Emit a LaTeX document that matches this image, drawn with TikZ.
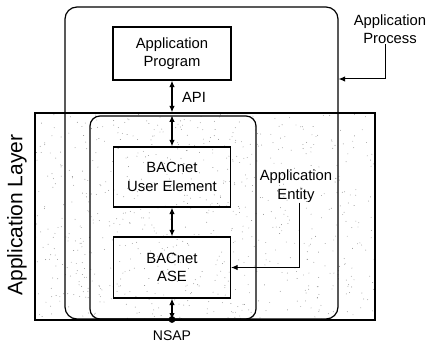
\documentclass[tikz,border=0pt]{standalone}
\usepackage{fontspec}
\setmainfont{Liberation Sans}
\usetikzlibrary{arrows.meta}
\begin{document}
\begin{tikzpicture}[x=1pt,y=-1pt,
  line width=1.2pt,
  lbl/.style={font=\fontsize{14.8}{18.5}\selectfont, align=center, inner sep=0pt},
  box/.style={draw, rectangle, minimum width=117pt, inner sep=0pt},
  frame/.style={draw, rectangle, inner sep=0pt},
  dbl/.style={{Latex[length=6.5pt,width=5.5pt]}-{Latex[length=6.5pt,width=5.5pt]}},
  arr/.style={-{Latex[length=6.5pt,width=5.5pt]}},
  speck/.style={fill=black!45}
]
\useasboundingbox (0,0) rectangle (426,345);

% stippled background of the application layer
\begin{scope}
  \clip (35,113) rectangle (375,320);
  \pgfmathsetseed{7}
  \foreach \k in {1,...,800}{
    \pgfmathsetmacro\rx{35+340*rnd}
    \pgfmathsetmacro\ry{113+207*rnd}
    \fill[speck] (\rx,\ry) circle (0.45pt);
  }
\end{scope}

% outer frames
\node[frame, minimum width=340pt, minimum height=207pt] (layer) at (205,216.5) {};
\node[frame, rounded corners=12pt, minimum width=273pt, minimum height=312pt] (process) at (201.5,163) {};
\node[frame, rounded corners=10pt, minimum width=166pt, minimum height=203pt] (entity) at (173,217.5) {};

% inner blocks
\node[box, minimum width=118pt, minimum height=53pt, lbl] (prog) at (172,53.5) {Application\\Program};
\node[box, minimum height=60pt, lbl] (uelem) at (172,177) {BACnet\\User Element};
\node[box, minimum height=61pt, lbl] (ase) at (172,267.5) {BACnet\\ASE};

% interfaces between blocks
\draw[dbl] (prog.south) -- (prog.south |- layer.north);
\draw[dbl] (prog.south |- entity.north) -- (uelem.north);
\draw[dbl] (uelem.south) -- (ase.north);
\node[lbl] (api) at (194,97) {API};

% network service access point
\coordinate (nsapdot) at (172,319.5);
\draw[dbl] (ase.south) -- (nsapdot);
\fill (nsapdot) circle (3.4pt);
\node[lbl, font=\fontsize{14}{17}\selectfont] (nsap) at (172,336) {NSAP};

% side labels
\node[lbl, rotate=90, font=\fontsize{21}{24}\selectfont] (laylbl) at (17,215) {Application Layer};
\node[lbl] (proclbl) at (390,29) {Application\\Process};
\node[lbl] (entlbl) at (296,186) {Application\\Entity};

\coordinate (proctip) at (process.east |- 0,79);
\draw[arr, line width=1pt] ([xshift=-5pt]proclbl.south) |- (proctip);
\draw[arr, line width=1pt] ([xshift=3pt]entlbl.south) |- (ase.east);
\end{tikzpicture}
\end{document}
